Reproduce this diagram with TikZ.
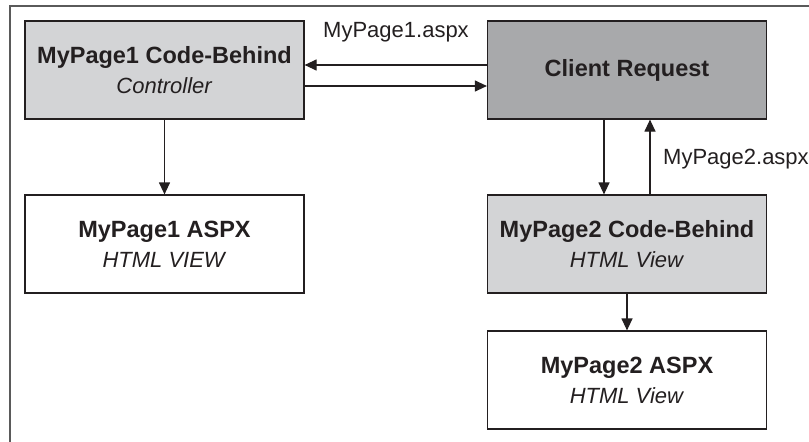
\documentclass[tikz,border=0pt]{standalone}
\usepackage{fontspec}
\setmainfont{Liberation Sans}
\usetikzlibrary{arrows.meta}
\definecolor{ink}{HTML}{231F20}
\definecolor{lightfill}{HTML}{D3D4D6}
\definecolor{darkfill}{HTML}{A8A9AB}
\definecolor{framegray}{HTML}{5A5A5A}
\newcommand{\headtext}[1]{{\fontsize{23.5}{30}\selectfont\bfseries #1}}
\tikzset{
  box/.style={draw=ink, line width=1.2pt, minimum width=279pt, minimum height=98pt,
    align=center, text=ink, inner sep=0pt, font=\fontsize{22}{30}\selectfont},
  light/.style={box, fill=lightfill},
  dark/.style={box, fill=darkfill},
  plain/.style={box, fill=white},
  arr/.style={draw=ink, line width=1.2pt, -{Triangle[length=12pt,width=11pt]}},
  lbl/.style={text=ink, inner sep=0pt, font=\fontsize{22}{26}\selectfont}
}
\begin{document}
\begin{tikzpicture}[x=1pt,y=-1pt]
  \useasboundingbox (0,0) rectangle (809,442);
  % outer frame: top and left edges only
  \draw[framegray, line width=1.4pt] (809,6) -- (10,6) -- (10,442);

  \node[light] (cb1) at (164.5,70) {\headtext{MyPage1 Code-Behind}\\\textit{Controller}};
  \node[dark]  (cr)  at (627,70)   {\headtext{Client Request}};
  \node[plain] (as1) at (164.5,244) {\headtext{MyPage1 ASPX}\\\textit{HTML VIEW}};
  \node[light] (cb2) at (627,244)  {\headtext{MyPage2 Code-Behind}\\\textit{HTML View}};
  \node[plain] (as2) at (627,380)  {\headtext{MyPage2 ASPX}\\\textit{HTML View}};

  \draw[arr] ([yshift=5pt]cr.west) -- ([yshift=5pt]cb1.east);
  \draw[arr] ([yshift=-16pt]cb1.east) -- ([yshift=-16pt]cr.west);
  \draw[arr] (cb1.south) -- (as1.north);
  \draw[arr] ([xshift=-23pt]cr.south) -- ([xshift=-23pt]cb2.north);
  \draw[arr] ([xshift=23pt]cb2.north) -- ([xshift=23pt]cr.south);
  \draw[arr] (cb2.south) -- (as2.north);

  \node[lbl, anchor=base] (l1) at (396,37) {MyPage1.aspx};
  \node[lbl, anchor=base west] (l2) at (663,164) {MyPage2.aspx};
\end{tikzpicture}
\end{document}
